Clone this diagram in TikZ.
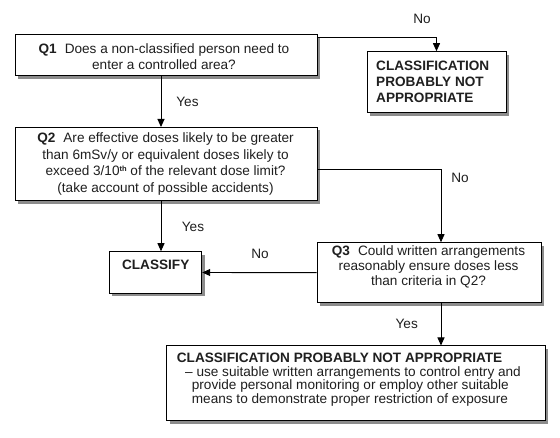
\documentclass[tikz,border=0pt]{standalone}
\usepackage{fontspec}
\setmainfont{Liberation Sans}
\usetikzlibrary{arrows.meta,shadows}
\begin{document}
\begin{tikzpicture}[x=1pt,y=-1pt,
  box/.style={draw=black, line width=1pt, fill=white, inner sep=0pt,
    drop shadow={shadow xshift=3pt, shadow yshift=-3pt, fill=black!45, opacity=1}},
  txt/.style={inner sep=0pt, font=\fontsize{13.6}{16.5}\selectfont, align=center, text=black!88},
  lbl/.style={inner sep=0pt, font=\fontsize{13.6}{16}\selectfont, text=black!88},
  conn/.style={line width=0.9pt, -{Triangle[length=8pt,width=7pt]}}
]
\useasboundingbox[fill=white] (0,0) rectangle (560,438);

% boxes
\node[box, minimum width=302pt, minimum height=41.5pt] (q1) at (166,55.25) {};
\node[box, minimum width=139pt, minimum height=61.3pt] (cpna) at (436.5,82.35) {};
\node[box, minimum width=302pt, minimum height=73.2pt] (q2) at (166,164.1) {};
\node[box, minimum width=92.4pt, minimum height=41.6pt] (cls) at (155.5,272.5) {};
\node[box, minimum width=224pt, minimum height=60pt] (q3) at (429,272.7) {};
\node[box, minimum width=378.3pt, minimum height=74.7pt] (fin) at (355.85,383.35) {};

% texts
\node[txt] (q1t) at (164,56.7) {\textbf{Q1}\hspace{8pt}Does a non-classified person need to\\enter a controlled area?};
\node[txt, anchor=west, align=left, font=\fontsize{13.6}{16}\selectfont\bfseries] (cpnat) at (376,82.3) {CLASSIFICATION\\PROBABLY NOT\\APPROPRIATE};
\node[txt] (q2t) at (165.5,164) {\textbf{Q2}\hspace{8pt}Are effective doses likely to be greater\\than 6mSv/y or equivalent doses likely to\\exceed 3/10\raisebox{4.5pt}{\fontsize{7.5}{8}\selectfont\bfseries th} of the relevant dose limit?\\(take account of possible accidents)};
\node[txt, font=\fontsize{13.6}{16}\selectfont\bfseries] (clst) at (155.7,265) {CLASSIFY};
\node[txt, font=\fontsize{13.6}{15}\selectfont] (q3t) at (428.5,266.7) {\textbf{Q3}\hspace{8pt}Could written arrangements\\reasonably ensure doses less\\than criteria in Q2?};
\node[txt, anchor=west, align=left, font=\fontsize{13.6}{13.5}\selectfont] (fint) at (176.7,379.7) {\textbf{CLASSIFICATION PROBABLY NOT APPROPRIATE}\\
\hspace*{8.3pt}– use suitable written arrangements to control entry and\\
\hspace*{15pt}provide personal monitoring or employ other suitable\\
\hspace*{15pt}means to demonstrate proper restriction of exposure};

% connectors
\draw[conn] ([yshift=-3pt]q1.north east) -| (cpna.north);
\draw[conn] ([xshift=-5pt]q1.south) -- ([xshift=-5pt]q2.north);
\draw[conn] ([yshift=-5.2pt]q2.east) -| ([xshift=12pt]q3.north);
\draw[conn] ([xshift=-5pt]q2.south) -- ([xshift=-5pt]q2.south |- cls.north);
\draw[conn] (q3.west) -- (cls.east);
\draw[conn] ([xshift=12pt]q3.south) -- ([xshift=12pt]q3.south |- fin.north);

% labels
\node[lbl] (l1) at (422,19) {No};
\node[lbl] (l2) at (187.5,101.7) {Yes};
\node[lbl] (l3) at (460,178) {No};
\node[lbl] (l4) at (193,226.7) {Yes};
\node[lbl] (l5) at (260,254) {No};
\node[lbl] (l6) at (406.7,324) {Yes};
\end{tikzpicture}
\end{document}
